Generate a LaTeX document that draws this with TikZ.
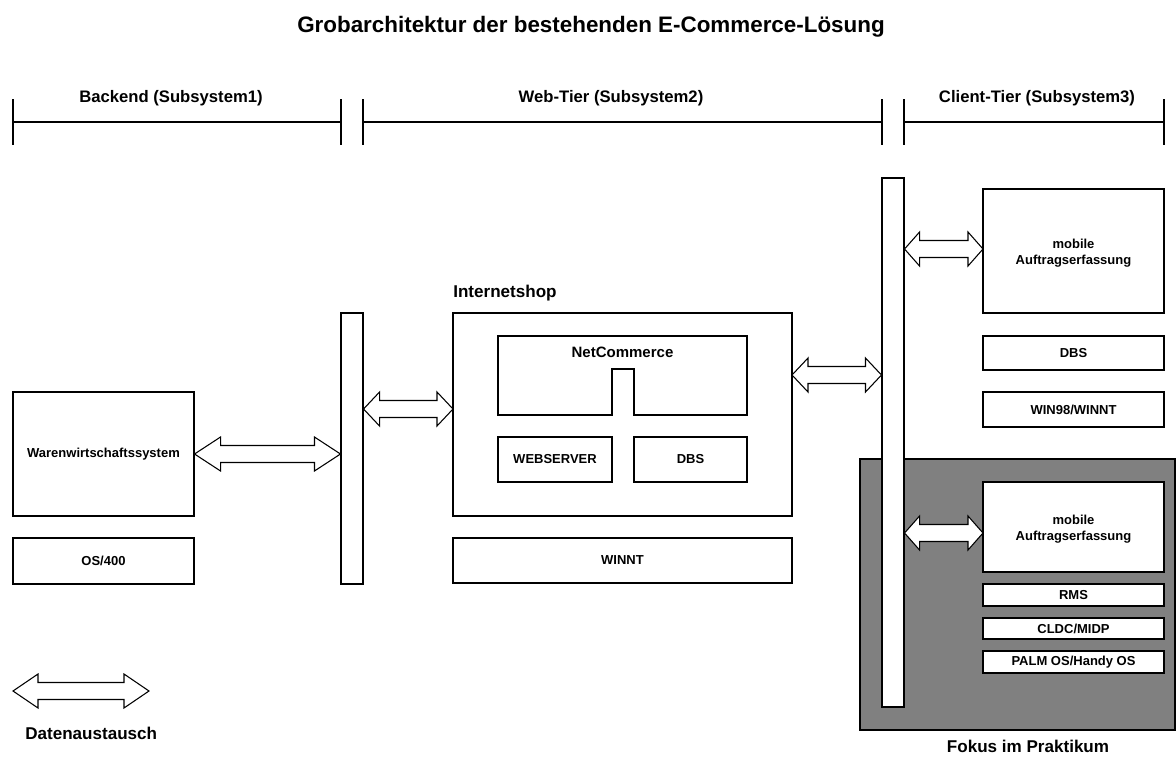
\documentclass[tikz,border=0pt]{standalone}
\usepackage{fontspec}
\setmainfont{Liberation Sans}
\usetikzlibrary{calc,fit}

\definecolor{fokusgrau}{HTML}{808080}

\tikzset{
  box/.style={draw, fill=white, line width=0.8pt, inner sep=0pt},
  boxtext/.style={inner sep=0pt, align=center, font=\fontsize{9.75}{12.5}\selectfont\bfseries},
  bus/.style={draw, fill=white, line width=0.8pt, inner sep=0pt},
  pfeil/.style={draw, fill=white, line width=0.8pt, line join=miter},
  tier/.style={inner sep=0pt, font=\fontsize{12.5}{14}\selectfont\bfseries},
  caption/.style={inner sep=0pt, font=\fontsize{12.8}{15}\selectfont\bfseries},
}

% block arrow with two open heads: from, to, head length
\newcommand\datenpfeil[3]{%
  \draw[pfeil] let \p1=(#1), \p2=(#2) in
    (\x1,\y1) -- ++(#3,-17) -- ++(0,8.5) -- ($(\x2,\y1)+(-#3,-8.5)$) -- ++(0,-8.5)
    -- (\x2,\y1) -- ++(-#3,17) -- ++(0,-8.5) -- ($(\x1,\y1)+(#3,8.5)$) -- ++(0,8.5) -- cycle;}

\begin{document}
\begin{tikzpicture}[x=0.75pt, y=-0.75pt]
\useasboundingbox (0,0) rectangle (1176,760);

\node[inner sep=0pt, anchor=base, font=\fontsize{16.8}{20}\selectfont\bfseries] (titel) at (591,32)
  {Grobarchitektur der bestehenden E-Commerce-Lösung};

% tiers
\foreach \von/\bis/\mitte/\tiername [count=\i] in
  {13/341/171/{Backend (Subsystem1)}, 363/882/611/{Web-Tier (Subsystem2)}, 904/1164/1037/{Client-Tier (Subsystem3)}} {
  \draw[line width=0.8pt] (\von,122) -- (\bis,122);
  \draw[line width=0.8pt] (\von,99) -- (\von,145) (\bis,99) -- (\bis,145);
  \node[tier, anchor=base] (tier\i) at (\mitte,102) {\tiername};
}

% focus area
\node[draw, fill=fokusgrau, line width=0.8pt, inner sep=0pt, fit={(860,459) (1175,730)}] (fokus) {};
\node[caption, anchor=base] (fokuslabel) at (1028,752) {Fokus im Praktikum};

% buses
\node[bus, fit={(341,313) (363,584)}] (bus1) {};
\node[bus, fit={(882,178) (904,707)}] (bus2) {};

% backend
\node[box, fit={(13,392) (194,516)}, label={[boxtext]center:Warenwirtschaftssystem}] (waren) {};
\node[box, fit={(13,538) (194,584)}, label={[boxtext]center:OS/400}] (os400) {};

% web tier
\node[caption, anchor=base west] (shoplabel) at (453,297) {Internetshop};
\node[box, fit={(453,313) (792,516)}] (shop) {};
\node[box, fit={(453,538) (792,583)}, label={[boxtext]center:WINNT}] (winnt) {};
\draw[line width=0.8pt] (498,336) -| (747,415) -- (634,415) |- (612,369) -- (612,415) -- (498,415) -- cycle;
\node[inner sep=0pt, anchor=base, font=\fontsize{11.25}{13}\selectfont\bfseries] (netcommerce) at (622.5,357) {NetCommerce};
\node[box, fit={(498,437) (612,482)}, label={[boxtext]center:WEBSERVER}] (webserver) {};
\node[box, fit={(634,437) (747,482)}, label={[boxtext]center:DBS}] (dbsshop) {};

% client tier
\node[box, fit={(983,189) (1164,313)}, label={[boxtext, yshift=-1.5pt]center:{mobile\\Auftragserfassung}}] (mobil1) {};
\node[box, fit={(983,336) (1164,370)}, label={[boxtext]center:DBS}] (dbsclient) {};
\node[box, fit={(983,392) (1164,427)}, label={[boxtext]center:WIN98/WINNT}] (win98) {};
\node[box, fit={(983,482) (1164,572)}, label={[boxtext, yshift=-1.5pt]center:{mobile\\Auftragserfassung}}] (mobil2) {};
\node[box, fit={(983,584) (1164,606)}, label={[boxtext]center:RMS}] (rms) {};
\node[box, fit={(983,618) (1164,639)}, label={[boxtext]center:CLDC/MIDP}] (cldc) {};
\node[box, fit={(983,651) (1164,673)}, label={[boxtext]center:PALM OS/Handy OS}] (palm) {};

% data exchange
\coordinate (shopein) at (453,409);
\coordinate (shopaus) at (792,375);
\coordinate (mobil1ein) at (983,249);
\coordinate (mobil2ein) at (983,533);
\datenpfeil{waren.east}{bus1.west}{26}
\datenpfeil{bus1.east |- shopein}{shopein}{16}
\datenpfeil{shopaus}{bus2.west |- shopaus}{16}
\datenpfeil{bus2.east |- mobil1ein}{mobil1ein}{15}
\datenpfeil{bus2.east |- mobil2ein}{mobil2ein}{15}

% legend
\coordinate (legende-a) at (13,691);
\coordinate (legende-b) at (149,691);
\datenpfeil{legende-a}{legende-b}{25}
\node[caption, anchor=base west] (legendelabel) at (25,739) {Datenaustausch};
\end{tikzpicture}
\end{document}
